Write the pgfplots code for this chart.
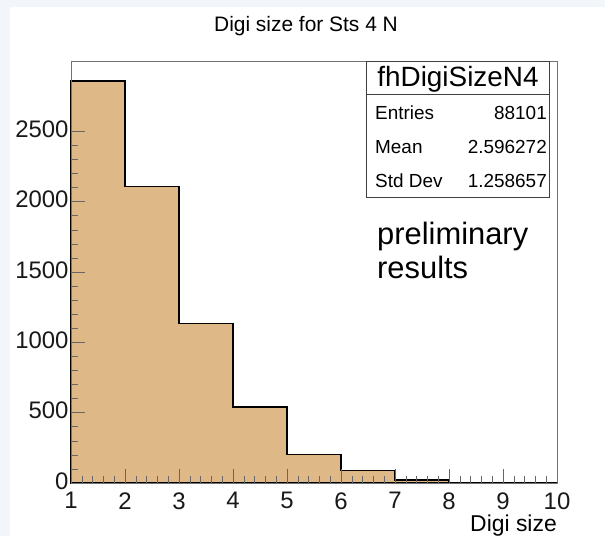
\documentclass[border=0pt]{standalone}
\usepackage{fontspec}
\setmainfont{Liberation Sans}
\usepackage{pgfplots}
\pgfplotsset{compat=1.18}
\usepackage{pgfplotstable}

\definecolor{histfill}{RGB}{222,184,135}
\definecolor{pagebg}{RGB}{242,245,250}

% bin lower edge, content (last row repeats the final bin to close the step)
\pgfplotstableread{
edge count
1 2857
2 2109
3 1136
4 540
5 201
6 87
7 21
8 4
9 2
10 2
}\digisize

\begin{document}
\begin{tikzpicture}
  % canvas
  \fill[pagebg] (0bp,0bp) rectangle (605bp,-536bp);
  \fill[white] (10bp,-7bp) rectangle (605bp,-536bp);

  \begin{axis}[
    at={(71bp,-483bp)}, anchor=south west,
    scale only axis, width=486bp, height=422bp,
    xmin=1, xmax=10, ymin=0, ymax=3000,
    xtick={1,2,...,10}, ytick={0,500,...,2500},
    minor x tick num=4, minor y tick num=4,
    tick align=inside, xtick pos=left, ytick pos=left,
    major tick length=14bp, minor tick length=7bp,
    tick style={draw=black!60, line width=0.6pt},
    axis line style={draw=black!55, line width=0.8pt},
    /pgf/number format/assume math mode=true,
    scaled y ticks=false,
    yticklabel style={/pgf/number format/1000 sep={}},
    ticklabel style={font=\fontsize{24}{26}\selectfont, text=black!90},
    xticklabel style={yshift=-6bp},
    yticklabel style={xshift=1bp, yshift=2bp},
    clip=false,
    axis on top=true,
  ]
    \addplot[const plot, fill=histfill, draw=black, line width=1.4pt]
      table[x=edge, y=count] {\digisize} \closedcycle;
  \end{axis}

  % title and axis label
  \node[anchor=base, inner sep=0pt, font=\fontsize{21}{24}\selectfont] at (306bp,-31bp)
    {Digi size for Sts 4 N};
  \node[anchor=base east, inner sep=0pt, font=\fontsize{23}{25}\selectfont] at (557bp,-531bp)
    {Digi size};

  % statistics box
  \draw[fill=white, draw=black!75, line width=0.8pt]
    (366bp,-61bp) rectangle (549bp,-197bp);
  \draw[draw=black!75, line width=0.8pt] (366bp,-94bp) -- (549bp,-94bp);
  \node[anchor=base, inner sep=0pt, font=\fontsize{28}{30}\selectfont] at (458bp,-86bp)
    {fhDigiSizeN4};
  \begin{scope}[every node/.style={inner sep=0pt, font=\fontsize{19}{21}\selectfont}]
    \node[anchor=base west] at (375bp,-119bp) {Entries};
    \node[anchor=base east] at (547bp,-119bp) {88101};
    \node[anchor=base west] at (375bp,-153bp) {Mean};
    \node[anchor=base east] at (547bp,-153bp) {2.596272};
    \node[anchor=base west] at (375bp,-187bp) {Std Dev};
    \node[anchor=base east] at (547bp,-187bp) {1.258657};
  \end{scope}

  % annotation
  \node[anchor=base west, inner sep=0pt, font=\fontsize{31}{34}\selectfont] at (377bp,-244bp)
    {preliminary};
  \node[anchor=base west, inner sep=0pt, font=\fontsize{31}{34}\selectfont] at (377bp,-278bp)
    {results};
\end{tikzpicture}
\end{document}
